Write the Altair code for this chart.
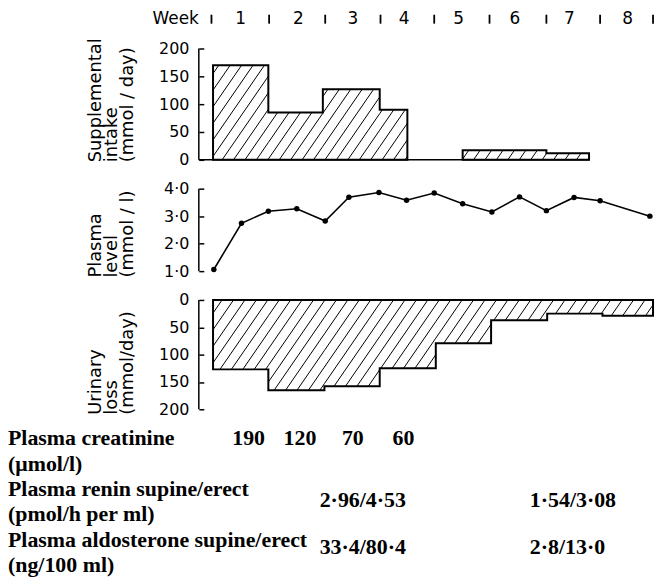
import altair as alt
import numpy as np
import pandas as pd

# ---------------- data ----------------
week_labels = ["1", "2", "3", "4", "5", "6", "7", "8"]
week_mid_days = [3.8, 11.1, 18.0, 24.5, 31.4, 38.5, 45.4, 52.8]
week_bound_days = [0.1, 7.4, 14.5, 21.5, 28.3, 35.3, 42.5, 49.3, 56.0]

intake_edges_a = [0.3, 7.3, 14.2, 21.4, 24.9]
intake_vals_a = [170, 85, 127, 90]
intake_edges_b = [31.9, 42.5, 47.9]
intake_vals_b = [17, 12]

plasma_days = [0.4, 3.9, 7.3, 10.9, 14.5, 17.5, 21.3, 24.8, 28.3, 31.9, 35.6, 39.1, 42.5, 46.0, 49.3, 55.6]
plasma_vals = [1.06, 2.74, 3.18, 3.27, 2.82, 3.69, 3.86, 3.58, 3.84, 3.45, 3.15, 3.7, 3.2, 3.68, 3.56, 3.0]

loss_edges = [0.3, 7.3, 14.4, 21.4, 28.5, 35.5, 42.6, 49.6, 56.0]
loss_vals = [127, 165, 158, 125, 79, 37, 25, 29]

row_labels = ["Plasma creatinine", "(μmol/l)", "Plasma renin supine/erect",
              "(pmol/h per ml)", "Plasma aldosterone supine/erect", "(ng/100 ml)"]
creat_days = [4.8, 11.3, 18.0, 24.4]
creat_vals = ["190", "120", "70", "60"]
hormone_days = [13.8, 40.4]
renin_vals = ["2·96/4·53", "1·54/3·08"]
aldo_vals = ["33·4/80·4", "2·8/13·0"]

# ---------------- layout / style ----------------
SANS = "DejaVu Sans"
SERIF = "Liberation Serif"
X_DOM = [-1.5, 56]
W = 457
H_TOP, H_MID, H_BOT, H_TAB = 112, 83, 110, 128
KX = W / (X_DOM[1] - X_DOM[0])

xs = alt.Scale(domain=X_DOM, nice=False, zero=False)
ys_top = alt.Scale(domain=[0, 200], nice=False)
ys_mid = alt.Scale(domain=[1, 4], nice=False, zero=False)
ys_bot = alt.Scale(domain=[0, 200], nice=False, reverse=True)
ys_tab = alt.Scale(domain=[0, 5], nice=False, reverse=True)


def yaxis(values, title, title_y, dot=False):
    kw = dict(values=values, title=title, offset=-5, tickSize=5, domain=False,
              grid=False, labelPadding=10, titleAngle=270, titleAlign="left",
              titleBaseline="top", titleX=-118, titleY=title_y)
    if dot:
        kw["labelExpr"] = "replace(format(datum.value, '.1f'), '.', '·')"
    return alt.Axis(**kw)


ax_top = yaxis([0, 50, 100, 150, 200], ["Supplemental", "intake", "(mmol / day)"], H_TOP + 2)
ax_mid = yaxis([1, 2, 3, 4], ["Plasma", "level", "(mmol / l)"], H_MID + 6, dot=True)
ax_bot = yaxis([0, 50, 100, 150, 200], ["Urinary", "loss", "(mmol/day)"], H_BOT + 5)


def hatch(edges, vals, ky, sign, spacing=11.5, m=1.45):
    rows = []
    for i, v in enumerate(vals):
        X0, X1 = edges[i] * KX, edges[i + 1] * KX
        H = v * ky
        if sign > 0:
            k0 = int(np.floor((X0 - H / m) / spacing)) - 1
            k1 = int(np.ceil(X1 / spacing)) + 1
            for k in range(k0, k1 + 1):
                a = k * spacing
                lo = max(0.0, m * (X0 - a))
                hi = min(H, m * (X1 - a))
                if hi - lo > 0.5:
                    rows.append(((a + lo / m) / KX, (a + hi / m) / KX, lo / ky, hi / ky))
        else:
            k0 = int(np.floor(X0 / spacing)) - 1
            k1 = int(np.ceil((X1 + H / m) / spacing)) + 1
            for k in range(k0, k1 + 1):
                a = k * spacing
                lo = max(0.0, m * (a - X1))
                hi = min(H, m * (a - X0))
                if hi - lo > 0.5:
                    rows.append(((a - lo / m) / KX, (a - hi / m) / KX, lo / ky, hi / ky))
    return pd.DataFrame(rows, columns=["x", "x2", "y", "y2"])


def step_df(edges, vals):
    return pd.DataFrame({"x": edges, "v": list(vals) + [vals[-1]]})


def X_NOAX(f):
    return alt.X(f, scale=xs, axis=None)


def outline(df, ys, ax):
    return alt.Chart(df).mark_area(interpolate="step-after", fill="transparent",
                                   stroke="black", strokeWidth=2).encode(
        x=X_NOAX("x:Q"), y=alt.Y("v:Q", scale=ys, axis=ax))


# ---------------- top panel ----------------
top_hatch = pd.concat([hatch(intake_edges_a, intake_vals_a, H_TOP / 200, 1),
                       hatch(intake_edges_b, intake_vals_b, H_TOP / 200, 1)])

t_h = alt.Chart(top_hatch).mark_rule(color="black", strokeWidth=1.0).encode(
    x=X_NOAX("x:Q"), x2="x2:Q", y=alt.Y("y:Q", scale=ys_top, axis=ax_top), y2="y2:Q")
t_a1 = outline(step_df(intake_edges_a, intake_vals_a), ys_top, ax_top)
t_a2 = outline(step_df(intake_edges_b, intake_vals_b), ys_top, ax_top)
t_base = alt.Chart(pd.DataFrame({"x": [X_DOM[0]], "x2": [intake_edges_b[-1]], "y": [0]})).mark_rule(
    color="black", strokeWidth=1.6).encode(x=X_NOAX("x:Q"), x2="x2:Q",
                                           y=alt.Y("y:Q", scale=ys_top, axis=ax_top))
t_dom = alt.Chart(pd.DataFrame({"x": [X_DOM[0]], "y": [0], "y2": [200]})).mark_rule(
    color="black", strokeWidth=1.5).encode(x=X_NOAX("x:Q"),
                                           y=alt.Y("y:Q", scale=ys_top, axis=ax_top), y2="y2:Q")
wk_num = alt.Chart(pd.DataFrame({"d": week_mid_days, "t": week_labels})).mark_text(
    font=SANS, fontSize=17, baseline="middle", color="black").encode(
    x=X_NOAX("d:Q"), y=alt.value(-30), text="t:N")
wk_tick = alt.Chart(pd.DataFrame({"d": week_bound_days})).mark_rule(
    color="black", strokeWidth=1.8).encode(x=X_NOAX("d:Q"), y=alt.value(-34), y2=alt.value(-25))
wk_word = alt.Chart(pd.DataFrame({"t": ["Week"]})).mark_text(
    font=SANS, fontSize=17, baseline="middle", align="right", color="black").encode(
    x=alt.value(0), y=alt.value(-30), text="t:N")

top = alt.layer(t_h, t_a1, t_a2, t_base, t_dom, wk_tick, wk_num, wk_word).properties(
    width=W, height=H_TOP)

# ---------------- middle panel ----------------
pl = pd.DataFrame({"d": plasma_days, "v": plasma_vals})
m_line = alt.Chart(pl).mark_line(color="black", strokeWidth=1.6).encode(
    x=X_NOAX("d:Q"), y=alt.Y("v:Q", scale=ys_mid, axis=ax_mid))
m_pts = alt.Chart(pl).mark_circle(color="black", opacity=1, size=30).encode(
    x=X_NOAX("d:Q"), y=alt.Y("v:Q", scale=ys_mid, axis=ax_mid))
m_dom = alt.Chart(pd.DataFrame({"x": [X_DOM[0]], "y": [1], "y2": [4]})).mark_rule(
    color="black", strokeWidth=1.5).encode(x=X_NOAX("x:Q"),
                                           y=alt.Y("y:Q", scale=ys_mid, axis=ax_mid), y2="y2:Q")
mid = alt.layer(m_line, m_pts, m_dom).properties(width=W, height=H_MID)

# ---------------- bottom panel ----------------
b_h = alt.Chart(hatch(loss_edges, loss_vals, H_BOT / 200, -1)).mark_rule(
    color="black", strokeWidth=1.0).encode(
    x=X_NOAX("x:Q"), x2="x2:Q", y=alt.Y("y:Q", scale=ys_bot, axis=ax_bot), y2="y2:Q")
b_a = outline(step_df(loss_edges, loss_vals), ys_bot, ax_bot)
b_dom = alt.Chart(pd.DataFrame({"x": [X_DOM[0]], "y": [0], "y2": [200]})).mark_rule(
    color="black", strokeWidth=1.5).encode(x=X_NOAX("x:Q"),
                                           y=alt.Y("y:Q", scale=ys_bot, axis=ax_bot), y2="y2:Q")
bot = alt.layer(b_h, b_a, b_dom).properties(width=W, height=H_BOT)

# ---------------- table ----------------
txt = dict(font=SERIF, fontSize=22, fontWeight="bold", baseline="middle", color="black")
tab_lab = alt.Chart(pd.DataFrame({"row": list(range(len(row_labels))), "t": row_labels})).mark_text(
    align="left", **txt).encode(x=alt.value(-192), y=alt.Y("row:Q", scale=ys_tab, axis=None), text="t:N")
tab_cr = alt.Chart(pd.DataFrame({"d": creat_days, "row": 0, "t": creat_vals})).mark_text(
    align="center", **txt).encode(x=X_NOAX("d:Q"), y=alt.Y("row:Q", scale=ys_tab, axis=None), text="t:N")
tab_rn = alt.Chart(pd.DataFrame({"d": hormone_days, "row": 2.45, "t": renin_vals})).mark_text(
    align="left", **txt).encode(x=X_NOAX("d:Q"), y=alt.Y("row:Q", scale=ys_tab, axis=None), text="t:N")
tab_al = alt.Chart(pd.DataFrame({"d": hormone_days, "row": 4.3, "t": aldo_vals})).mark_text(
    align="left", **txt).encode(x=X_NOAX("d:Q"), y=alt.Y("row:Q", scale=ys_tab, axis=None), text="t:N")
tab = alt.layer(tab_lab, tab_cr, tab_rn, tab_al).properties(width=W, height=H_TAB)

chart = alt.vconcat(top, mid, bot, tab, spacing=29, bounds="flush").properties(
    padding=0, background="white"
).configure_view(stroke=None).configure_axis(
    labelFont=SANS, labelFontSize=16, labelColor="black", tickColor="black", tickWidth=1.5,
    titleFont=SANS, titleFontSize=18, titleFontWeight="normal", titleColor="black",
    titleLineHeight=16
)

chart.save("out.html", embed_options={"renderer": "svg", "actions": False})
